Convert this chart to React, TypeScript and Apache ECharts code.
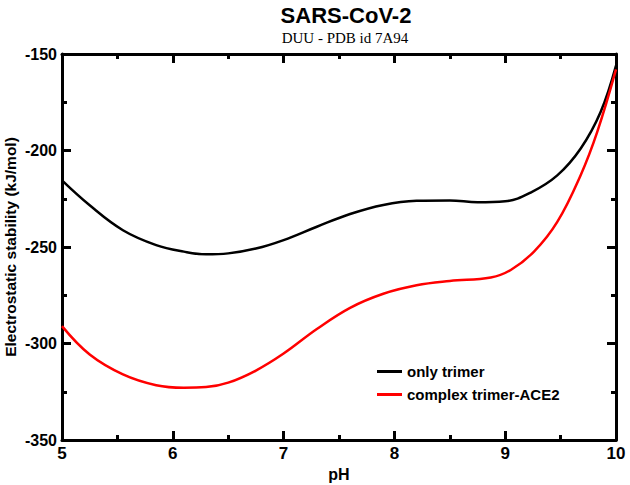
import React, { useEffect, useRef } from "react";
import * as echarts from "echarts";

const phTrimer = [5, 5.25, 5.55, 5.85, 6.1, 6.3, 6.5, 6.75, 7.0, 7.3, 7.6, 7.9, 8.2, 8.5, 8.75, 9.0, 9.23, 9.47, 9.68, 9.86, 10];
const onlyTrimer = [-215.5, -228.4, -241.3, -249, -252.4, -253.8, -253.3, -250.8, -246.4, -239.5, -232.9, -228.2, -226.1, -225.9, -226.8, -226.3, -221.8, -212.9, -199.1, -180.2, -156];
const phComplex = [5, 5.25, 5.55, 5.85, 6.1, 6.3, 6.5, 6.75, 7.0, 7.3, 7.6, 7.9, 8.2, 8.5, 8.87, 9.05, 9.26, 9.47, 9.68, 9.83, 10];
const complexTrimer = [-291, -305.7, -316, -321.6, -322.9, -322.6, -320.3, -314, -305.2, -292.5, -281.5, -274.2, -269.8, -267.6, -265.8, -261.9, -252.4, -237, -212.9, -190.5, -158];
const seriesNames = ["only trimer", "complex trimer-ACE2"];

const SANS = "'Liberation Sans', Arial, sans-serif";

function axisParts() {
  return {
    axisLine: { show: true, lineStyle: { color: "#000", width: 3 } },
    axisTick: { show: true, inside: true, length: 9, lineStyle: { color: "#000", width: 3 } },
    minorTick: { show: true, splitNumber: 2, length: 5, lineStyle: { color: "#000", width: 3 } },
    splitLine: { show: false },
  };
}

export default function App() {
  const ref = useRef<HTMLDivElement>(null);
  useEffect(() => {
    const chart = echarts.init(ref.current!, null, { renderer: "svg" });
    chart.setOption({
      animation: false,
      title: [
        {
          text: "SARS-CoV-2",
          left: 341,
          top: -1,
          textAlign: "center",
          textStyle: { fontFamily: SANS, fontWeight: "bold", fontSize: 22, color: "#000" },
        },
        {
          text: "DUU - PDB id 7A94",
          left: 340,
          top: 25,
          textAlign: "center",
          textStyle: { fontFamily: "'Liberation Serif', 'Times New Roman', serif", fontWeight: "normal", fontSize: 15, color: "#000" },
        },
      ],
      legend: {
        orient: "vertical",
        left: 372,
        top: 359,
        icon: "rect",
        itemWidth: 25,
        itemHeight: 3,
        itemGap: 8,
        data: seriesNames,
        textStyle: { fontFamily: SANS, fontWeight: "bold", fontSize: 15, color: "#000" },
      },
      grid: { left: 62, right: 14, top: 54, bottom: 45, containLabel: false, outerBoundsMode: "none" },
      xAxis: [
        {
          type: "value",
          min: 5,
          max: 10,
          interval: 1,
          name: "pH",
          nameLocation: "middle",
          nameGap: 26,
          nameTextStyle: { fontFamily: SANS, fontWeight: "bold", fontSize: 16, color: "#000" },
          ...axisParts(),
          axisLabel: { fontFamily: SANS, fontWeight: "bold", fontSize: 17, color: "#000", margin: 5 },
        },
        {
          type: "value",
          position: "top",
          min: 5,
          max: 10,
          interval: 1,
          ...axisParts(),
          axisLabel: { show: false },
        },
      ],
      yAxis: [
        {
          type: "value",
          min: -350,
          max: -150,
          interval: 50,
          name: "Electrostatic stability (kJ/mol)",
          nameLocation: "middle",
          nameGap: 44,
          nameMoveOverlap: false,
          nameTextStyle: { fontFamily: SANS, fontWeight: "bold", fontSize: 15.5, color: "#000" },
          ...axisParts(),
          axisLabel: { fontFamily: SANS, fontWeight: "bold", fontSize: 16, color: "#000", margin: 5 },
        },
        {
          type: "value",
          position: "right",
          min: -350,
          max: -150,
          interval: 50,
          ...axisParts(),
          axisLabel: { show: false },
        },
      ],
      series: [
        {
          name: seriesNames[0],
          type: "line",
          data: phTrimer.map((x, i) => [x, onlyTrimer[i]]),
          smooth: 0.4,
          showSymbol: false,
          lineStyle: { color: "#000", width: 2.5 },
          itemStyle: { color: "#000" },
        },
        {
          name: seriesNames[1],
          type: "line",
          data: phComplex.map((x, i) => [x, complexTrimer[i]]),
          smooth: 0.4,
          showSymbol: false,
          lineStyle: { color: "#ff0000", width: 2.5 },
          itemStyle: { color: "#ff0000" },
        },
      ],
    });
    return () => chart.dispose();
  }, []);
  return <div ref={ref} style={{ width: 630, height: 485, position: "absolute", left: 0, top: 0 }} />;
}
